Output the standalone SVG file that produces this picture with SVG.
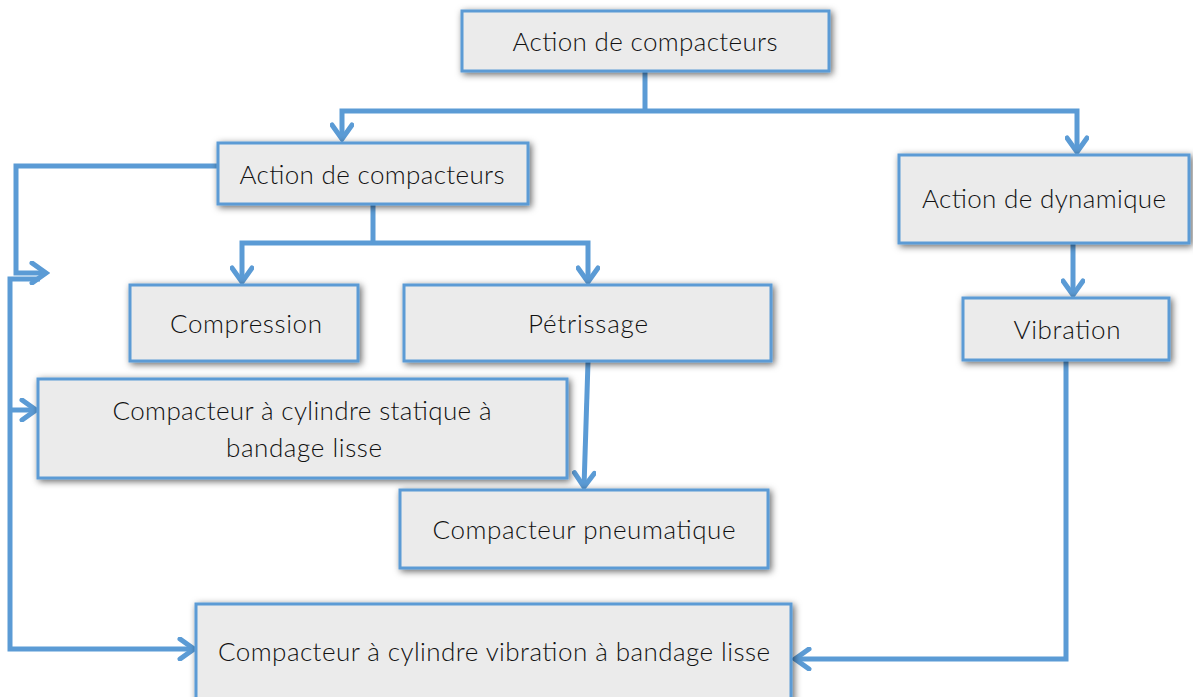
<svg xmlns="http://www.w3.org/2000/svg" width="1193" height="697" viewBox="0 0 1193 697">
<defs>
<filter id="sh" x="-10%" y="-30%" width="120%" height="160%">
<feDropShadow dx="2" dy="2" stdDeviation="3.5" flood-color="#000" flood-opacity="0.6"/>
</filter>
<marker id="ah" viewBox="0 0 24 24" refX="20" refY="12" markerWidth="24" markerHeight="24" markerUnits="userSpaceOnUse" orient="auto">
<path d="M6,2 L20,12 L6,22" fill="none" stroke="#5b9bd5" stroke-width="5" stroke-linecap="round" stroke-linejoin="miter"/>
</marker>
</defs>
<style>
.box{fill:#ebebeb;stroke:#5b9bd5;stroke-width:3;filter:url(#sh)}
.t{font-family:"Lato","Open Sans","Liberation Sans",sans-serif;font-size:26px;font-weight:300;fill:#111;text-anchor:middle}
.c{fill:none;stroke:#5b9bd5;stroke-width:5;stroke-linejoin:miter}
.a{marker-end:url(#ah)}
</style>
<rect width="1193" height="697" fill="#fff"/>
<g id="connectors">
<polyline class="c" points="645,71 645,111"/>
<polyline class="c a" points="645,111 342,111 342,139"/>
<polyline class="c a" points="645,111 1077,111 1077,152"/>
<polyline class="c" points="373,204 373,243"/>
<polyline class="c a" points="373,243 242,243 242,282"/>
<polyline class="c a" points="373,243 588,243 588,282"/>
<polyline class="c a" points="217,166 16,166 16,273 46,273"/>
<polyline class="c a" points="40,279 10,279 10,649 194,649"/>
<polyline class="c a" points="10,410 36,410"/>
<polyline class="c a" points="588,362 584,487"/>
<polyline class="c a" points="1073,243 1073,295"/>
<polyline class="c a" points="1066,360 1066,659 795,659"/>
</g>
<g id="n1"><rect class="box" x="462" y="11" width="367" height="60"/><text class="t" x="645" y="51" textLength="265">Action de compacteurs</text></g>
<g id="n2"><rect class="box" x="218" y="143" width="310" height="61"/><text class="t" x="372" y="184" textLength="265">Action de compacteurs</text></g>
<g id="n3"><rect class="box" x="899" y="155" width="290" height="88"/><text class="t" x="1044" y="208" textLength="244">Action de dynamique</text></g>
<g id="n4"><rect class="box" x="963" y="298" width="206" height="62"/><text class="t" x="1067" y="339" textLength="107">Vibration</text></g>
<g id="n5"><rect class="box" x="130" y="285" width="228" height="76"/><text class="t" x="246" y="333" textLength="152">Compression</text></g>
<g id="n6"><rect class="box" x="404" y="285" width="367" height="76"/><text class="t" x="588" y="333" textLength="120">Pétrissage</text></g>
<g id="n7"><rect class="box" x="38" y="379" width="529" height="99"/><text class="t" x="302" y="420" textLength="379">Compacteur à cylindre statique à</text><text class="t" x="304" y="457" textLength="156">bandage lisse</text></g>
<g id="n8"><rect class="box" x="400" y="490" width="368" height="78"/><text class="t" x="584" y="539" textLength="303">Compacteur pneumatique</text></g>
<g id="n9"><rect class="box" x="196" y="604" width="595" height="96"/><text class="t" x="494" y="661" textLength="552">Compacteur à cylindre vibration à bandage lisse</text></g>
</svg>
